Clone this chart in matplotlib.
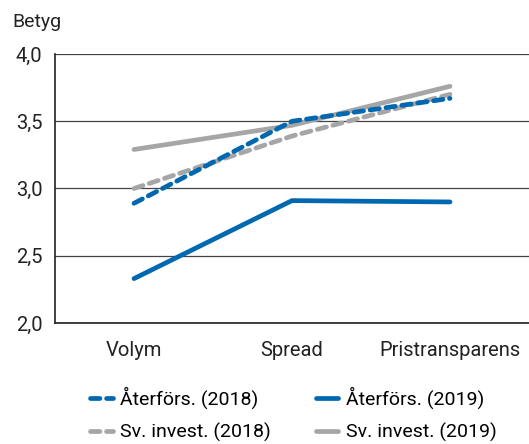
import matplotlib.pyplot as plt
from matplotlib.ticker import FuncFormatter

plt.rcParams['font.family'] = ['Roboto', 'DejaVu Sans']

categories = ['Volym', 'Spread', 'Pristransparens']
aterfors_2018 = [2.89, 3.50, 3.67]
aterfors_2019 = [2.33, 2.91, 2.90]
svinvest_2018 = [3.00, 3.39, 3.70]
svinvest_2019 = [3.29, 3.47, 3.76]

blue = '#0068b0'
gray = '#a6a6a6'

fig = plt.figure(figsize=(5.29, 4.44), dpi=100)
ax = fig.add_axes([55 / 529, 1 - 323 / 444, 1 - 55 / 529, 269 / 444])

x = range(len(categories))
h_sv19, = ax.plot(x, svinvest_2019, color=gray, lw=3.4, solid_capstyle='round',
                  label='Sv. invest. (2019)', zorder=3)
h_sv18, = ax.plot(x, svinvest_2018, color=gray, lw=3.4, ls=(0, (2.0, 1.4)), dash_capstyle='round',
                  label='Sv. invest. (2018)', zorder=3)
h_at19, = ax.plot(x, aterfors_2019, color=blue, lw=3.4, solid_capstyle='round',
                  label='Återförs. (2019)', zorder=4)
h_at18, = ax.plot(x, aterfors_2018, color=blue, lw=3.4, ls=(0, (2.0, 1.4)), dash_capstyle='round',
                  label='Återförs. (2018)', zorder=4)

ax.set_xlim(-0.5, 2.5)
ax.set_ylim(2.0, 4.0)
ax.set_yticks([2.0, 2.5, 3.0, 3.5, 4.0])
ax.yaxis.set_major_formatter(FuncFormatter(lambda v, p: f'{v:.1f}'.replace('.', ',')))
ax.set_xticks(list(x))
ax.set_xticklabels(categories)
ax.tick_params(length=0, labelsize=14.5, colors='#222222')
ax.tick_params(axis='y', pad=9)
ax.tick_params(axis='x', pad=13)

ax.grid(axis='y', color='#444444', lw=0.9)
ax.set_axisbelow(True)
for s in ['top', 'right']:
    ax.spines[s].set_visible(False)
for s in ['left', 'bottom']:
    ax.spines[s].set_color('#222222')
    ax.spines[s].set_linewidth(1.2)

fig.text(12 / 529, 1 - 22 / 444, 'Betyg', fontsize=14, color='#222222', va='center', ha='left')

fig.legend([h_at18, h_sv18, h_at19, h_sv19],
           [h.get_label() for h in [h_at18, h_sv18, h_at19, h_sv19]],
           loc='center', bbox_to_anchor=(0.555, 1 - 414 / 444), ncol=2, frameon=False,
           fontsize=14, handlelength=1.15, handletextpad=0.4, columnspacing=2.3,
           labelspacing=0.7, borderpad=0.2)

fig.savefig('out.png', dpi=100)
